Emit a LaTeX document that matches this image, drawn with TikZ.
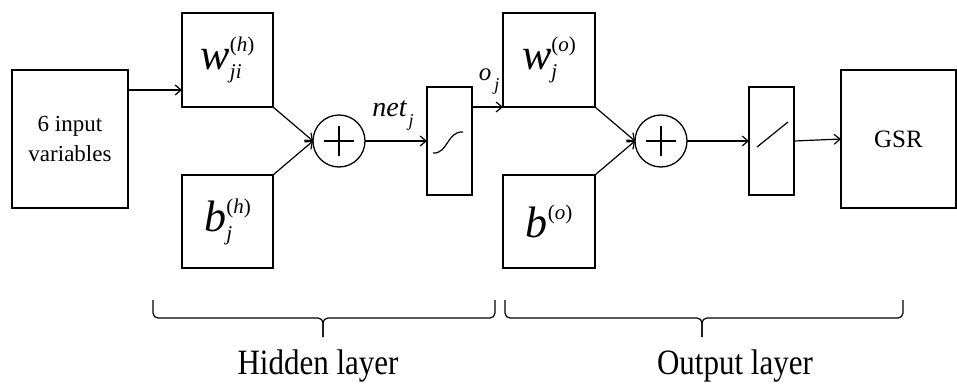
\documentclass[tikz,border=0pt]{standalone}
\usepackage{fontspec}
\setmainfont{Liberation Serif}
\usetikzlibrary{arrows.meta,calc}
\newcommand\msym[3]{{\fontsize{44}{44}\selectfont\itshape #1}\rlap{\raisebox{-9pt}{\fontsize{21}{21}\selectfont\itshape #3}}\raisebox{18pt}{\fontsize{21}{21}\selectfont(\textit{#2})}}
\begin{document}
\begin{tikzpicture}[x=1pt,y=-1pt,
  blk/.style={draw,line width=1.3pt,inner sep=0pt,outer sep=0pt},
  sumc/.style={draw,circle,line width=1.3pt,minimum size=52pt,inner sep=0pt,outer sep=0pt},
  arr/.style={line width=1.2pt,-{Straight Barb[length=6pt,width=10pt]}},
  ln/.style={line width=1.2pt},
  plus/.style={line width=1.8pt},
  brk/.style={line width=1.2pt,rounded corners=5pt},
  lbl/.style={inner sep=0pt}]
\useasboundingbox[fill=white] (0,0) rectangle (957,385);
% boxes
\node[blk,minimum width=116pt,minimum height=138pt,align=center,font=\fontsize{23}{30}\selectfont] (in) at (70,139) {6 input\\variables};
\node[blk,minimum width=91pt,minimum height=94pt] (wh) at (227.5,60) {\msym{w}{h}{ji}};
\node[blk,minimum width=91pt,minimum height=93pt] (bh) at (227.5,221.5) {\msym{b}{h}{j}};
\node[sumc] (s1) at (339,141) {};
\node[blk,minimum width=45pt,minimum height=108pt] (sig) at (449.5,141) {};
\node[blk,minimum width=92pt,minimum height=94pt] (wo) at (549,60) {\msym{w}{o}{j}};
\node[blk,minimum width=92pt,minimum height=93pt] (bo) at (549,221.5) {{\fontsize{44}{44}\selectfont\itshape b}\raisebox{18pt}{\fontsize{21}{21}\selectfont(\textit{o})}};
\node[sumc] (s2) at (661,141) {};
\node[blk,minimum width=45pt,minimum height=108pt] (lin) at (771.5,141) {};
\node[blk,minimum width=115pt,minimum height=138pt,font=\fontsize{25}{25}\selectfont] (gsr) at (898.5,139) {GSR};
% plus signs
\draw[plus] ([xshift=-15pt]s1.center) -- ([xshift=15pt]s1.center);
\draw[plus] ([yshift=-15pt]s1.center) -- ([yshift=15pt]s1.center);
\draw[plus] ([xshift=-15pt]s2.center) -- ([xshift=15pt]s2.center);
\draw[plus] ([yshift=-15pt]s2.center) -- ([yshift=15pt]s2.center);
% activation glyphs
\draw[ln] (433,153) .. controls (448,154) and (447,131) .. (463,132);
\draw[ln] (757,147) -- (788,122);
% connectors
\coordinate (a1) at ([yshift=-20pt]in.north east);
\draw[arr] (a1) -- (a1 -| wh.west);
\draw[arr] (wh.south east) -- (s1.west);
\draw[arr] (bh.north east) -- (s1.west);
\draw[arr] (s1.east) -- (sig.west);
\draw[arr] (sig.east |- wo.south west) -- (wo.south west);
\draw[arr] (wo.south east) -- (s2.west);
\draw[arr] (bo.north east) -- (s2.west);
\draw[arr] (s2.east) -- (lin.west);
\draw[arr] (lin.east) -- (gsr.west);
% labels
\node[lbl] (netl) at (393,116) {{\fontsize{28}{28}\selectfont\itshape net}\hspace{2pt}\raisebox{-10pt}{\fontsize{18}{18}\selectfont\itshape j}};
\node[lbl] (ojl) at (489,82) {{\fontsize{25}{25}\selectfont\itshape o}\hspace{3pt}\raisebox{-10pt}{\fontsize{18}{18}\selectfont\itshape j}};
% brackets
\draw[brk] (153,300) -- (153,318) -- (323,318) -- (323,337);
\draw[brk] (495,300) -- (495,318) -- (323,318) -- (323,337);
\draw[brk] (505,300) -- (505,318) -- (702,318) -- (702,337);
\draw[brk] (903,300) -- (903,318) -- (702,318) -- (702,337);
\node[lbl] (hl) at (318,366) {\scalebox{1}[1.15]{\fontsize{31}{31}\selectfont Hidden layer}};
\node[lbl] (ol) at (735,366) {\scalebox{1}[1.15]{\fontsize{31}{31}\selectfont Output layer}};
\end{tikzpicture}
\end{document}
